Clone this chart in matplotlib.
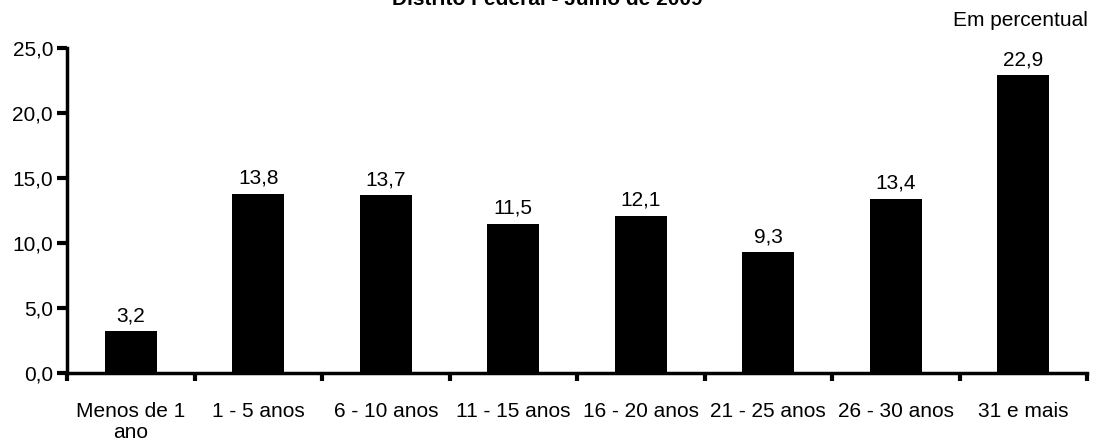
import matplotlib
matplotlib.use("Agg")
import matplotlib.pyplot as plt
import numpy as np

categories = ["Menos de 1\nano", "1 - 5 anos", "6 - 10 anos", "11 - 15 anos",
              "16 - 20 anos", "21 - 25 anos", "26 - 30 anos", "31 e mais"]
values = [3.2, 13.8, 13.7, 11.5, 12.1, 9.3, 13.4, 22.9]
yticks = [0, 5, 10, 15, 20, 25]

plt.rcParams['font.family'] = ['Liberation Sans', 'DejaVu Sans']

W, H = 1095, 446
fig = plt.figure(figsize=(W/100, H/100), dpi=100)
ax = fig.add_axes([67/W, 1-373/H, (1087-67)/W, (373-48)/H])

x = np.arange(len(categories))
ax.bar(x, values, width=0.41, color='black')
for xi, v in zip(x, values):
    ax.text(xi, v + 0.45, f"{v:.1f}".replace('.', ','), ha='center', va='bottom', fontsize=15)

ax.set_xlim(-0.5, len(categories) - 0.5)
ax.set_ylim(0, 25)
ax.set_yticks(yticks)
ax.set_yticklabels([f"{t:.1f}".replace('.', ',') for t in yticks], fontsize=15)
ax.set_xticks(x)
ax.set_xticklabels(categories, fontsize=15, linespacing=1.15)
ax.tick_params(axis='x', length=0, pad=21)
ax.set_xticks(np.arange(len(categories) + 1) - 0.5, minor=True)
ax.tick_params(axis='x', which='minor', length=6, width=3, direction='out')
ax.tick_params(axis='y', length=7, width=3, direction='out', pad=3)
for s in ['top', 'right']:
    ax.spines[s].set_visible(False)
for s in ['left', 'bottom']:
    ax.spines[s].set_linewidth(2.5)

fig.text(0.5, 1 - 5/H, "Distrito Federal - Julho de 2009", ha='center', va='baseline',
         fontsize=15, fontweight='bold')
fig.text(1020/W, 1 - 20/H, "Em percentual", ha='center', va='center', fontsize=15)

fig.savefig("out.png", dpi=100)
